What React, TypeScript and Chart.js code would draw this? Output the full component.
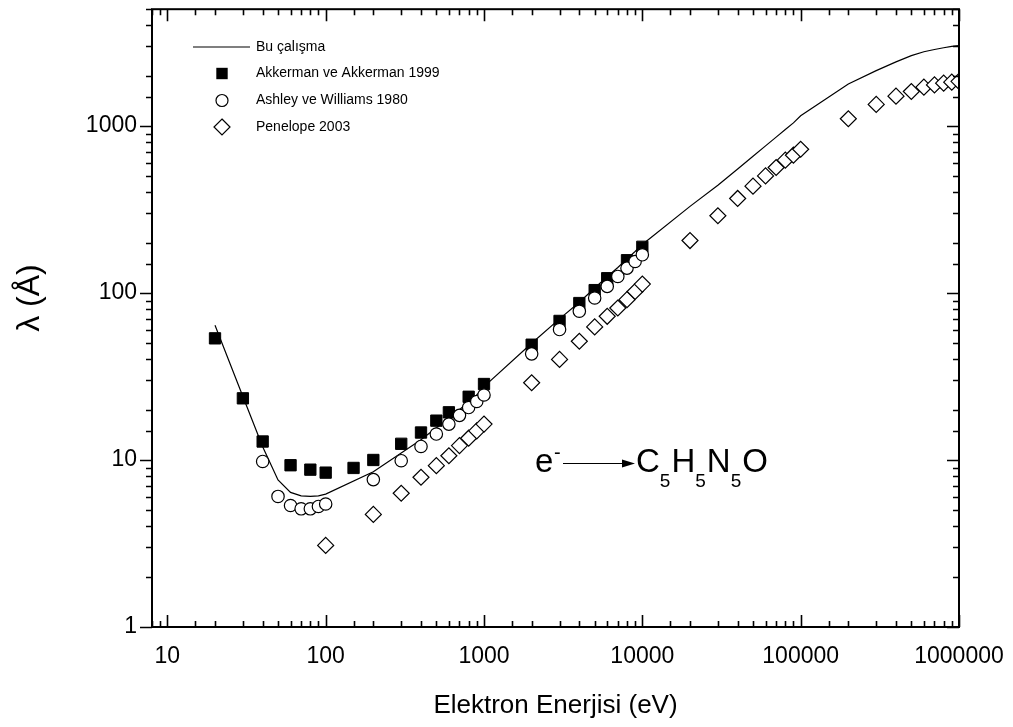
import React, { useEffect, useRef } from 'react';
import { Chart, registerables } from 'chart.js';

Chart.register(...registerables);

// "Bu çalışma" (line)
const lineX = [20, 30, 40, 50, 60, 70, 80, 90, 100, 200, 300, 400, 500, 600, 700, 800, 900, 1000, 2000, 3000, 4000, 5000, 6000, 7000, 8000, 9000, 10000, 20000, 30000, 40000, 50000, 60000, 70000, 80000, 90000, 100000, 200000, 300000, 400000, 500000, 600000, 700000, 800000, 900000, 1000000];
const lineY = [64, 24, 12, 7.6, 6.4, 6.1, 6.05, 6.1, 6.25, 8.5, 11, 13.2, 15.6, 17.8, 20, 22.3, 24.5, 27.5, 50, 70, 88, 107, 125, 142, 160, 177, 195, 330, 442, 553, 659, 760, 857, 951, 1043, 1150, 1785, 2145, 2420, 2636, 2780, 2870, 2940, 2995, 3030];

// Akkerman ve Akkerman 1999 (filled squares)
const akX = [20, 30, 40, 60, 80, 100, 150, 200, 300, 400, 500, 600, 800, 1000, 2000, 3000, 4000, 5000, 6000, 8000, 10000];
const akY = [53.5, 23.4, 12.9, 9.3, 8.75, 8.4, 8.96, 10, 12.5, 14.6, 17.2, 19.3, 23.9, 28.5, 49, 68, 87, 104, 122.5, 157, 189];

// Ashley ve Williams 1980 (open circles)
const asX = [40, 50, 60, 70, 80, 90, 100, 200, 300, 400, 500, 600, 700, 800, 900, 1000, 2000, 3000, 4000, 5000, 6000, 7000, 8000, 9000, 10000];
const asY = [9.8, 6.05, 5.34, 5.1, 5.1, 5.27, 5.45, 7.63, 9.9, 12.05, 14.3, 16.4, 18.5, 20.6, 22.4, 24.5, 43.2, 60.4, 77.7, 93.3, 109.5, 125.6, 140.8, 154.3, 169.2];

// Penelope 2003 (open diamonds)
const peX = [100, 200, 300, 400, 500, 600, 700, 800, 900, 1000, 2000, 3000, 4000, 5000, 6000, 7000, 8000, 9000, 10000, 20000, 30000, 40000, 50000, 60000, 70000, 80000, 90000, 100000, 200000, 300000, 400000, 500000, 600000, 700000, 800000, 900000, 1000000];
const peY = [3.08, 4.72, 6.32, 7.88, 9.25, 10.6, 12.2, 13.5, 14.95, 16.4, 29, 40, 51.4, 62.6, 72.5, 81.3, 91.2, 102, 113, 206, 290, 368, 436, 502, 564, 624, 668, 725, 1104, 1345, 1508, 1608, 1706, 1761, 1803, 1828, 1850];

const legendLabels = ['Bu çalışma', 'Akkerman ve Akkerman 1999', 'Ashley ve Williams 1980', 'Penelope 2003'];
const xTitle = 'Elektron Enerjisi (eV)';
const yTitle = 'λ (Å)';

const FONT = "'Liberation Sans', Arial, Helvetica, sans-serif";

const toPts = (xs: number[], ys: number[]) => xs.map((x, i) => ({ x, y: ys[i] }));
const isDecade = (v: number) => {
  const l = Math.log10(v);
  return Math.abs(l - Math.round(l)) < 1e-6;
};
const decadeLabel = (v: any) => (isDecade(Number(v)) ? String(Math.round(Number(v))) : '');

function drawMarker(ctx: CanvasRenderingContext2D, kind: string, x: number, y: number) {
  ctx.save();
  ctx.lineWidth = 1.2;
  ctx.strokeStyle = '#000';
  ctx.beginPath();
  if (kind === 'square') {
    ctx.fillStyle = '#000';
    ctx.rect(x - 5.7, y - 5.7, 11.4, 11.4);
    ctx.fill();
  } else if (kind === 'circle') {
    ctx.fillStyle = '#fff';
    ctx.arc(x, y, 6, 0, Math.PI * 2);
    ctx.fill();
    ctx.stroke();
  } else {
    ctx.fillStyle = '#fff';
    ctx.moveTo(x, y - 8);
    ctx.lineTo(x + 8, y);
    ctx.lineTo(x, y + 8);
    ctx.lineTo(x - 8, y);
    ctx.closePath();
    ctx.fill();
    ctx.stroke();
  }
  ctx.restore();
}

const zeroPad = (s: any) => {
  s.paddingTop = 0;
  s.paddingBottom = 0;
  s.paddingLeft = 0;
  s.paddingRight = 0;
};

const decorPlugin = {
  id: 'decor',
  afterDraw(chart: any) {
    const { ctx, chartArea: a, scales } = chart;
    const xs = scales.x;
    const ys = scales.y;
    ctx.save();
    // frame
    ctx.strokeStyle = '#000';
    ctx.lineWidth = 2;
    ctx.strokeRect(a.left, a.top, a.right - a.left, a.bottom - a.top);
    // ticks
    ctx.lineWidth = 1.6;
    ctx.beginPath();
    xs.ticks.forEach((t: any) => {
      const px = Math.round(xs.getPixelForValue(t.value)) + 0.5;
      const len = isDecade(t.value) ? 12 : 6;
      ctx.moveTo(px, a.bottom);
      ctx.lineTo(px, a.bottom - len);
      ctx.moveTo(px, a.top);
      ctx.lineTo(px, a.top + len);
    });
    ys.ticks.forEach((t: any) => {
      const py = Math.round(ys.getPixelForValue(t.value)) + 0.5;
      const len = isDecade(t.value) ? 12 : 6;
      ctx.moveTo(a.left, py);
      ctx.lineTo(a.left - len, py);
      ctx.moveTo(a.right, py);
      ctx.lineTo(a.right - len, py);
    });
    ctx.stroke();

    // axis titles
    ctx.fillStyle = '#000';
    ctx.font = `26px ${FONT}`;
    ctx.textAlign = 'center';
    ctx.textBaseline = 'middle';
    ctx.fillText(xTitle, (a.left + a.right) / 2, 706);
    ctx.save();
    ctx.translate(30, 298);
    ctx.rotate(-Math.PI / 2);
    ctx.font = `32px ${FONT}`;
    ctx.fillText(yTitle, 0, 0);
    ctx.restore();

    // legend
    const lx = a.left + 70;
    const rows = [47, 73.5, 100.5, 127];
    ctx.lineWidth = 1.2;
    ctx.beginPath();
    ctx.moveTo(a.left + 41, rows[0]);
    ctx.lineTo(a.left + 98, rows[0]);
    ctx.stroke();
    drawMarker(ctx, 'square', lx, rows[1]);
    drawMarker(ctx, 'circle', lx, rows[2]);
    drawMarker(ctx, 'diamond', lx, rows[3]);
    ctx.font = `14px ${FONT}`;
    ctx.textAlign = 'left';
    ctx.textBaseline = 'middle';
    legendLabels.forEach((s, i) => ctx.fillText(s, a.left + 104, rows[i]));

    // annotation e- -> C5H5N5O
    ctx.textBaseline = 'alphabetic';
    ctx.font = `33px ${FONT}`;
    ctx.fillText('e', 535, 472);
    ctx.font = `20px ${FONT}`;
    ctx.fillText('-', 554, 459);
    ctx.lineWidth = 1.2;
    ctx.beginPath();
    ctx.moveTo(563, 463.5);
    ctx.lineTo(624, 463.5);
    ctx.stroke();
    ctx.beginPath();
    ctx.moveTo(622, 459.5);
    ctx.lineTo(635, 463.5);
    ctx.lineTo(622, 467.5);
    ctx.closePath();
    ctx.fill();
    let cx = 636;
    const parts: [string, boolean][] = [['C', false], ['5', true], ['H', false], ['5', true], ['N', false], ['5', true], ['O', false]];
    parts.forEach(([s, sub]) => {
      ctx.font = sub ? `19px ${FONT}` : `33px ${FONT}`;
      ctx.fillText(s, cx, sub ? 487 : 472);
      cx += ctx.measureText(s).width + (sub ? 1 : 0);
    });
    ctx.restore();
  },
};

export default function App() {
  const ref = useRef<HTMLCanvasElement>(null);
  useEffect(() => {
    const canvas = ref.current;
    if (!canvas) return;
    const tickFont = { family: FONT, size: 23 };
    const chart = new Chart(canvas, {
      type: 'scatter',
      data: {
        datasets: [
          {
            label: legendLabels[0],
            data: toPts(lineX, lineY),
            showLine: true,
            borderColor: '#000',
            borderWidth: 1.2,
            pointRadius: 0,
            tension: 0,
            fill: false,
            order: 4,
          },
          {
            label: legendLabels[1],
            data: toPts(akX, akY),
            pointStyle: 'rect',
            pointRadius: 8,
            backgroundColor: '#000',
            borderColor: '#000',
            borderWidth: 1,
            order: 3,
          },
          {
            label: legendLabels[2],
            data: toPts(asX, asY),
            pointStyle: 'circle',
            pointRadius: 6.2,
            backgroundColor: '#fff',
            borderColor: '#000',
            borderWidth: 1.2,
            order: 2,
          },
          {
            label: legendLabels[3],
            data: toPts(peX, peY),
            pointStyle: 'rectRot',
            pointRadius: 8,
            backgroundColor: '#fff',
            borderColor: '#000',
            borderWidth: 1.2,
            order: 1,
          },
        ],
      } as any,
      options: {
        responsive: false,
        animation: false,
        events: [],
        layout: { padding: { left: 0, right: 54, top: 7, bottom: 0 } },
        plugins: { legend: { display: false }, tooltip: { enabled: false } },
        scales: {
          x: {
            type: 'logarithmic',
            position: 'bottom',
            min: 8,
            max: 1000000,
            grid: { display: false, drawTicks: false },
            border: { display: false },
            ticks: { autoSkip: false, maxRotation: 0, padding: 16, color: '#000', font: tickFont, callback: decadeLabel },
            afterFit: (s: any) => {
              s.height = 100;
              zeroPad(s);
            },
          },
          y: {
            type: 'logarithmic',
            position: 'left',
            min: 1,
            max: 5000,
            grid: { display: false, drawTicks: false },
            border: { display: false },
            ticks: { autoSkip: false, padding: 15, color: '#000', font: tickFont, callback: decadeLabel },
            afterFit: (s: any) => {
              s.width = 152;
              zeroPad(s);
            },
          },
        },
      } as any,
      plugins: [decorPlugin],
    });
    return () => chart.destroy();
  }, []);
  return (
    <div style={{ position: 'fixed', left: 0, top: 0, width: 1013, height: 727, background: '#fff' }}>
      <canvas ref={ref} width={1013} height={727} style={{ display: 'block' }} />
    </div>
  );
}
